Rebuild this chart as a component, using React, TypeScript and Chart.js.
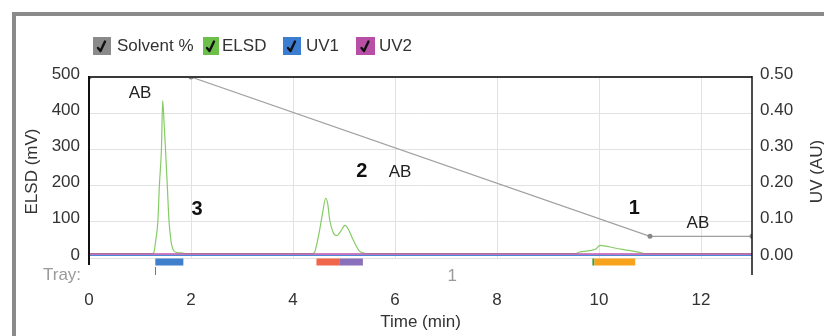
import React, { useEffect, useRef } from 'react';
import { Chart, registerables } from 'chart.js';

Chart.register(...registerables);

const FONT = '"Liberation Sans", Arial, sans-serif';

// ---- data ----
const xTickValues = [0, 2, 4, 6, 8, 10, 12];
const elsdTickValues = [0, 100, 200, 300, 400, 500];
const uvTickValues = [0, 0.1, 0.2, 0.3, 0.4, 0.5];

const solventTime = [0, 2, 11, 13];
const solventPct = [100, 100, 12, 12];

const elsdTime = [0, 1.22, 1.27, 1.31, 1.35, 1.38, 1.42, 1.445, 1.47, 1.5, 1.535, 1.57, 1.61, 1.66, 1.73, 1.82, 1.9,
  4.38, 4.42, 4.51, 4.58, 4.64, 4.68, 4.72, 4.79, 4.86, 4.94, 5.02, 5.09, 5.16, 5.29, 5.37, 5.45,
  9.55, 9.6, 9.93, 10.02, 10.33, 10.59, 10.82, 10.9, 13];
const elsdMv = [12, 12, 15, 50, 100, 200, 300, 435, 380, 300, 200, 100, 45, 20, 15, 14, 12,
  12, 15, 68, 124, 165, 150, 105, 70, 62, 75, 90, 78, 56, 21, 14, 12,
  12, 16, 24, 35, 27, 21, 15, 12, 12];

const uv1Time = [0, 13];
const uv1Au = [0.007, 0.007];
const uv2Time = [0, 13];
const uv2Au = [0.011, 0.011];

const trayStart = [1.3, 4.46, 4.92, 9.87, 9.91];
const trayEnd = [1.85, 4.92, 5.37, 9.91, 10.71];
const trayColors = ['#3f7fcc', '#f0664a', '#8a6fbb', '#3a9f35', '#f7a31c'];
const trayMarkTime = [1.3];
const trayNames = ['1'];
const trayNameTime = [7.12];

const peakNames = ['3', '2', '1'];
const peakNameTime = [2.12, 5.35, 10.69];
const peakNameMv = [135, 238, 138];

const abNames = ['AB', 'AB', 'AB'];
const abTime = [1.0, 6.1, 11.94];
const abMv = [456, 238, 97];

const legendNames = ['Solvent %', 'ELSD', 'UV1', 'UV2'];
const legendColors = ['#8a8a8a', '#6cc04a', '#3b7dd0', '#b84ea5'];

const zip = (xs: number[], ys: number[]) => xs.map((x, i) => ({ x, y: ys[i] }));

const overlayPlugin = {
  id: 'overlay',
  afterDatasetsDraw(chart: any) {
    const { ctx, chartArea: a, scales } = chart;
    const xs = scales.x;
    const ys = scales.y;
    ctx.save();
    // top border
    ctx.strokeStyle = '#3a3a3a';
    ctx.lineWidth = 2;
    ctx.beginPath();
    ctx.moveTo(a.left, a.top);
    ctx.lineTo(a.right, a.top);
    ctx.stroke();
    // left axis
    ctx.strokeStyle = '#111';
    ctx.lineWidth = 2;
    ctx.beginPath();
    ctx.moveTo(a.left, a.top - 1);
    ctx.lineTo(a.left, a.bottom + 7);
    ctx.stroke();
    // right axis
    ctx.lineWidth = 1.5;
    ctx.beginPath();
    ctx.moveTo(a.right, a.top - 1);
    ctx.lineTo(a.right, a.bottom + 17);
    ctx.stroke();

    // tray bars
    trayStart.forEach((s, i) => {
      const x0 = xs.getPixelForValue(s);
      const x1 = xs.getPixelForValue(trayEnd[i]);
      ctx.fillStyle = trayColors[i];
      ctx.fillRect(x0, a.bottom + 0.5, x1 - x0, 7);
    });
    // tray markers
    ctx.strokeStyle = '#777';
    ctx.lineWidth = 1;
    trayMarkTime.forEach((t) => {
      const px = Math.round(xs.getPixelForValue(t)) + 0.5;
      ctx.beginPath();
      ctx.moveTo(px, a.bottom + 9);
      ctx.lineTo(px, a.bottom + 17);
      ctx.stroke();
    });
    ctx.font = `17px ${FONT}`;
    ctx.fillStyle = '#9a9a9a';
    ctx.textBaseline = 'middle';
    ctx.textAlign = 'left';
    ctx.fillText('Tray:', 43, a.bottom + 17);
    ctx.textAlign = 'center';
    trayNames.forEach((n, i) => ctx.fillText(n, xs.getPixelForValue(trayNameTime[i]), a.bottom + 18));

    // AB labels
    ctx.fillStyle = '#222';
    abNames.forEach((n, i) => ctx.fillText(n, xs.getPixelForValue(abTime[i]), ys.getPixelForValue(abMv[i])));
    // peak labels
    ctx.font = `bold 20px ${FONT}`;
    ctx.fillStyle = '#111';
    peakNames.forEach((n, i) => ctx.fillText(n, xs.getPixelForValue(peakNameTime[i]), ys.getPixelForValue(peakNameMv[i])));

    // axis titles
    const midY = (a.top + a.bottom) / 2 + 4;
    ctx.font = `17px ${FONT}`;
    ctx.fillStyle = '#333';
    ctx.save();
    ctx.translate(32, midY);
    ctx.rotate(-Math.PI / 2);
    ctx.fillText('ELSD (mV)', 0, 0);
    ctx.restore();
    ctx.save();
    ctx.translate(817, midY);
    ctx.rotate(-Math.PI / 2);
    ctx.fillText('UV (AU)', 0, 0);
    ctx.restore();
    ctx.restore();
  },
};

function CheckBox({ color, left, width }: { color: string; left: number; width: number }) {
  return (
    <div style={{ position: 'absolute', left, top: 37, width, height: 18, background: color }}>
      <svg width={width} height={18} style={{ position: 'absolute', left: 0, top: 0 }}>
        <path d={`M${width / 2 - 4} 11 L${width / 2 - 1.5} 14 L${width / 2 + 3} 4.5`} stroke="#111" strokeWidth={2.4} fill="none" strokeLinecap="round" strokeLinejoin="round" />
      </svg>
    </div>
  );
}

export default function App() {
  const canvasRef = useRef<HTMLCanvasElement | null>(null);

  useEffect(() => {
    if (!canvasRef.current) return;
    const tickFont = { family: FONT, size: 17 };
    const chart = new Chart(canvasRef.current, {
      type: 'line',
      data: {
        datasets: [
          {
            label: 'UV2', data: zip(uv2Time, uv2Au), yAxisID: 'yUv', borderColor: '#c052ac', borderWidth: 1.3,
            pointRadius: 0, order: 0,
          },
          {
            label: 'UV1', data: zip(uv1Time, uv1Au), yAxisID: 'yUv', borderColor: '#4a88d8', borderWidth: 1.3,
            pointRadius: 0, order: 1,
          },
          {
            label: 'ELSD', data: zip(elsdTime, elsdMv), yAxisID: 'y', borderColor: '#86cc66', borderWidth: 1.2,
            pointRadius: 0, tension: 0.3, cubicInterpolationMode: 'monotone', order: 3,
          },
          {
            label: 'Solvent %', data: zip(solventTime, solventPct), yAxisID: 'ySolv', borderColor: '#a0a0a0',
            borderWidth: 1.2, pointRadius: 2.5, pointBackgroundColor: '#888', pointBorderWidth: 0, order: 2,
          },
        ],
      },
      options: {
        animation: false,
        responsive: false,
        parsing: true,
        layout: { padding: { top: 77, left: 0, right: 0, bottom: 0 } },
        plugins: { legend: { display: false }, tooltip: { enabled: false } },
        scales: {
          x: {
            type: 'linear', position: 'bottom', min: 0, max: 13,
            afterBuildTicks: (s: any) => { s.ticks = xTickValues.map((v) => ({ value: v })); },
            afterFit: (s: any) => { s.height = 78; },
            ticks: { font: tickFont, color: '#333', padding: 32, maxRotation: 0 },
            grid: { color: '#e2e2e2', drawTicks: false },
            border: { display: false },
            title: { display: true, text: 'Time (min)', font: tickFont, color: '#333', padding: { top: 0, bottom: 3 } },
          },
          y: {
            position: 'left', min: 0, max: 500,
            afterBuildTicks: (s: any) => { s.ticks = elsdTickValues.map((v) => ({ value: v })); },
            afterFit: (s: any) => { s.width = 89; },
            ticks: { font: tickFont, color: '#333', padding: 9, labelOffset: -3 },
            grid: { color: '#e2e2e2', drawTicks: false },
            border: { display: false },
          },
          yUv: {
            position: 'right', min: 0, max: 0.5,
            afterBuildTicks: (s: any) => { s.ticks = uvTickValues.map((v) => ({ value: v })); },
            afterFit: (s: any) => { s.width = 72; },
            ticks: { font: tickFont, color: '#333', padding: 8, labelOffset: -3, callback: (v: any) => Number(v).toFixed(2) },
            grid: { display: false, drawTicks: false },
            border: { display: false },
          },
          ySolv: { display: false, min: 0, max: 100 },
        },
      } as any,
      plugins: [overlayPlugin],
    });
    return () => chart.destroy();
  }, []);

  const legendBoxLeft = [93, 203, 283, 356];
  const legendBoxWidth = [18, 16, 18, 19];
  const legendTextLeft = [117, 222, 306, 379];

  return (
    <div style={{ position: 'fixed', left: 0, top: 0, width: 824, height: 336, background: '#fff', overflow: 'hidden' }}>
      <div style={{ position: 'absolute', left: 12, top: 12, right: -10, bottom: -10, borderLeft: '4px solid #8a8a8a', borderTop: '4px solid #8a8a8a' }} />
      <canvas ref={canvasRef} width={824} height={336} style={{ position: 'absolute', left: 0, top: 0 }} />
      {legendNames.map((n, i) => (
        <React.Fragment key={n}>
          <CheckBox color={legendColors[i]} left={legendBoxLeft[i]} width={legendBoxWidth[i]} />
          <div style={{ position: 'absolute', left: legendTextLeft[i], top: 36, height: 20, lineHeight: '20px', font: `17px ${FONT}`, color: '#333', whiteSpace: 'nowrap' }}>{n}</div>
        </React.Fragment>
      ))}
    </div>
  );
}
